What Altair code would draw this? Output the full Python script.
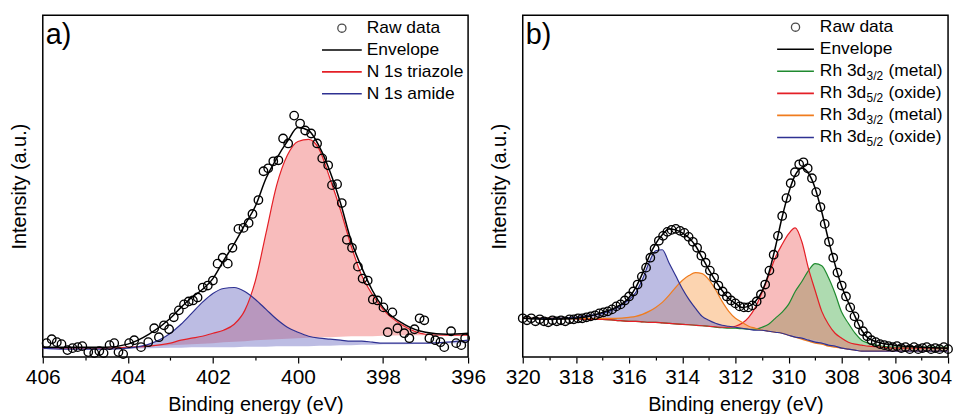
import altair as alt
import pandas as pd

FONT = "Liberation Sans"

# ---------------- Panel a: N 1s ----------------
a_raw_E = [405.91, 405.79, 405.67, 405.56, 405.42, 405.30, 405.18, 405.07, 404.93, 404.79,
           404.67, 404.57, 404.43, 404.32, 404.22, 404.11, 403.97, 403.85, 403.69, 403.52,
           403.38, 403.27, 403.15, 403.03, 402.92, 402.80, 402.68, 402.57, 402.47, 402.36,
           402.24, 402.12, 402.00, 401.89, 401.77, 401.65, 401.54, 401.40, 401.28, 401.16,
           401.07, 400.93, 400.81, 400.70, 400.58, 400.46, 400.35, 400.23, 400.09, 399.95,
           399.83, 399.69, 399.55, 399.43, 399.29, 399.20, 399.08, 398.97, 398.85, 398.73,
           398.59, 398.48, 398.36, 398.24, 398.13, 397.99, 397.89, 397.78, 397.66, 397.50,
           397.38, 397.26, 397.14, 397.03, 396.91, 396.77, 396.65, 396.56, 396.40, 396.28,
           396.16, 396.07]
a_raw_I = [14, 18, 15, 13, 7, 9, 10, 11, 5, 4,
           6, 4, 12, 14, 5, 3, 14, 17, 10, 15,
           29, 20, 32, 28, 40, 47, 53, 56, 57, 60,
           70, 72, 77, 94, 100, 94, 110, 129, 130, 135,
           144, 158, 187, 190, 197, 198, 220, 215, 243, 235,
           228, 225, 215, 200, 193, 173, 174, 155, 118, 110,
           91, 79, 77, 58, 57, 50, 25, 45, 29, 24,
           19, 28, 39, 37, 19, 17, 15, 10, 26, 14,
           12, 19]

a_fit_E = [406, 405.5, 405, 404.5, 404, 403.5, 403, 402.75, 402.5, 402.25, 402, 401.75,
           401.5, 401.25, 401, 400.75, 400.5, 400.25, 400, 399.75, 399.5, 399.25, 399,
           398.75, 398.5, 398.25, 398, 397.5, 397, 396.5, 396]
a_envelope = [10, 10, 10, 10, 13, 23, 39, 50, 60, 68, 79, 97, 114, 133, 152, 180, 200, 217,
              231, 228, 212, 187, 155, 117, 90, 67, 50, 33, 25, 23, 24]
a_triazole = [9, 9, 9, 9, 10, 11, 14, 17, 19, 21, 24, 27, 33, 47, 77, 125, 173, 203, 217,
              219, 209, 180, 148, 112, 82, 63, 48, 31, 23, 22, 22]
a_triazole_bg = [9, 9, 9, 9.5, 10, 11, 12, 12.5, 13, 13.5, 14, 15, 15.5, 16, 17, 17.5, 18,
                 18.5, 19, 19.5, 20, 20, 20.5, 21, 21, 21, 21.5, 22, 22, 22, 22]
a_amide = [9, 8, 8, 8, 9, 13, 24, 33, 44, 55, 64, 69, 70, 66, 58, 48, 38, 30, 25, 21, 19,
           18, 17, 16, 16, 15, 14, 14, 14, 15, 17]
a_amide_bg = [8, 8, 8, 8, 8.5, 9, 9.5, 9.5, 10, 10, 10, 10, 10, 10.5, 10.5, 10.5, 11, 11,
              11, 11, 11.5, 11.5, 12, 12, 12.5, 12.5, 13, 13, 13.5, 14, 14]

# ---------------- Panel b: Rh 3d ----------------
b_raw_E = [320.00, 319.84, 319.68, 319.52, 319.36, 319.20, 319.04, 318.88, 318.72, 318.56,
           318.40, 318.24, 318.08, 317.92, 317.76, 317.60, 317.44, 317.28, 317.12, 316.96,
           316.80, 316.64, 316.48, 316.32, 316.16, 316.00, 315.84, 315.68, 315.52, 315.36,
           315.20, 315.04, 314.88, 314.72, 314.56, 314.40, 314.24, 314.08, 313.92, 313.76,
           313.60, 313.44, 313.28, 313.12, 312.96, 312.80, 312.64, 312.48, 312.32, 312.16,
           312.00, 311.84, 311.68, 311.52, 311.36, 311.20, 311.04, 310.88, 310.72, 310.56,
           310.40, 310.24, 310.08, 309.92, 309.76, 309.60, 309.44, 309.28, 309.12, 308.96,
           308.80, 308.64, 308.48, 308.32, 308.16, 308.00, 307.84, 307.68, 307.52, 307.36,
           307.20, 307.04, 306.88, 306.72, 306.56, 306.40, 306.24, 306.08, 305.92, 305.76,
           305.60, 305.44, 305.28, 305.12, 304.96, 304.80, 304.64, 304.48, 304.32, 304.16,
           304.00]
b_raw_I = [39, 37, 39, 36, 38, 36, 35, 37, 36, 37,
           36, 38, 38, 39, 39, 40, 41, 42, 44, 45,
           46, 48, 51, 53, 57, 61, 66, 73, 81, 90,
           100, 109, 117, 122, 126, 128, 129, 127, 125, 121,
           116, 110, 102, 95, 87, 80, 72, 66, 61, 57,
           54, 51, 50, 50, 52, 56, 63, 73, 87, 103,
           122, 142, 160, 175, 186, 194, 196, 190, 180, 166,
           151, 134, 116, 100, 85, 72, 61, 50, 41, 33,
           26, 21, 17, 15, 13, 12, 11, 10, 11, 9,
           10, 8, 10, 8, 9, 10, 8, 9, 8, 10,
           8]

b_fit_E = [320, 319, 318, 317.5, 317, 316.5, 316, 315.75, 315.5, 315.25, 315, 314.75, 314.5,
           314.25, 314, 313.75, 313.5, 313.25, 313, 312.75, 312.5, 312.25, 312, 311.75, 311.5,
           311.25, 311, 310.75, 310.5, 310.25, 310, 309.75, 309.5, 309.25, 309, 308.75, 308.5,
           308.25, 308, 307.75, 307.5, 307.25, 307, 306.5, 306, 305, 304]
b_background = [39, 39, 38.5, 38, 38, 37, 36, 36, 35.5, 35, 35, 34.5, 34, 33.5, 33, 32.5, 32,
                31.5, 31, 30, 29.5, 29, 29, 28.5, 28, 27, 27, 26, 25, 24, 23, 21, 20, 18, 17,
                15, 13, 12, 10, 9, 8, 7, 6, 6, 6, 6, 6]
b_envelope = [39, 38, 39, 41, 45, 50, 60, 70, 84, 101, 114, 123, 129, 128, 125, 120, 112, 100,
              88, 77, 67, 59, 54, 50, 51, 56, 66, 84, 110, 140, 165, 183, 190, 185, 170, 146,
              118, 93, 71, 55, 41, 27, 19, 14, 12, 10, 9]
b_metal_32 = [39, 39, 38.5, 38, 38, 37, 36, 36, 35.5, 35, 35, 34.5, 34, 33.5, 33, 32.5, 32,
              31.5, 31, 30, 29.5, 29, 29, 28.5, 28, 28, 30, 33, 39, 45, 53, 66, 76, 87, 94,
              92, 80, 64, 45, 34, 24, 17, 14, 11, 10, 10, 10]
b_oxide_52 = [39, 39, 38.5, 38, 38, 37, 36, 36, 35.5, 35, 35, 34.5, 34, 33.5, 33, 32.5, 32,
              31.5, 31, 30.5, 30, 30, 31, 34, 40, 50, 65, 82, 100, 113, 124, 130, 116, 89, 67,
              46, 33, 24, 19, 15, 13, 12, 11, 10, 9, 9, 9]
b_metal_32b = [39, 39, 39, 39, 39, 39, 40, 41, 43, 46, 50, 55, 62, 70, 77, 82, 85, 84, 78, 68,
               56, 46, 39, 35, 31, 29, 27, 26, 25, 24, 22, 20, 18, 16, 14, 13, 11, 10, 9, 8, 7,
               6, 6, 6, 6, 6, 6]
b_oxide_52b = [39, 39, 40, 42, 44, 49, 58, 65, 78, 95, 107, 108, 95, 82, 69, 58, 49, 41, 37,
               34, 32, 31, 30, 29, 28, 27, 27, 26, 25, 24, 22, 20, 19, 17, 15, 14, 12, 11, 9, 8,
               7, 6, 6, 6, 6, 6, 6]

RED, BLUE, GREEN, ORANGE = "#e41f26", "#2e3192", "#1f8a2f", "#f07c1e"

raw_a = pd.DataFrame({"E": a_raw_E, "I": a_raw_I})
fit_a = pd.DataFrame({"E": a_fit_E, "env": a_envelope, "tri": a_triazole, "tri_bg": a_triazole_bg,
                      "ami": a_amide, "ami_bg": a_amide_bg})
raw_b = pd.DataFrame({"E": b_raw_E, "I": b_raw_I})
fit_b = pd.DataFrame({"E": b_fit_E, "env": b_envelope, "bg": b_background, "m1": b_metal_32,
                      "o1": b_oxide_52, "m2": b_metal_32b, "o2": b_oxide_52b})
one = pd.DataFrame({"k": [0]})

YSC = alt.Scale(domain=[0, 344], nice=False, zero=False)
YAX = alt.Axis(labels=False, ticks=False, domain=False, grid=False, titlePadding=13)
YT = "Intensity (a.u.)"
W, H = 428, 344


def x_axis(lo, hi, edge_label):
    show = "datum.value % 2 === 0"
    if edge_label:
        show += f" && datum.value !== {lo}"
    return alt.Axis(values=list(range(lo, hi + 1)), grid=False, domain=False,
                    labelExpr=f"{show} ? datum.label : ''",
                    tickSize={"condition": {"test": "datum.value % 2 === 0", "value": 6}, "value": 3},
                    labelOverlap=False, labelFlush=False, labelPadding=4, titlePadding=7)


def panel(raw, fit, dom, lo, hi, comps, letter, legend, rows_y0, rows_dy, edge_label):
    X = alt.X("E:Q", scale=alt.Scale(domain=dom, nice=False, zero=False),
              axis=x_axis(lo, hi, edge_label), title="Binding energy (eV)")
    layers = []
    for field, base, color, fill in comps:
        layers.append(alt.Chart(fit).mark_area(interpolate="monotone", color=fill, opacity=0.45).encode(
            x=X, y=alt.Y(f"{field}:Q", scale=YSC, axis=YAX, title=YT), y2=alt.Y2(f"{base}:Q")))
    for field, base, color, fill in comps:
        layers.append(alt.Chart(fit).mark_line(interpolate="monotone", color=color, strokeWidth=1.2).encode(
            x=X, y=alt.Y(f"{field}:Q", scale=YSC, axis=YAX, title=YT)))
    layers.append(alt.Chart(fit).mark_line(interpolate="monotone", color="black", strokeWidth=1.5).encode(
        x=X, y=alt.Y("env:Q", scale=YSC, axis=YAX, title=YT)))
    layers.append(alt.Chart(raw).mark_point(shape="circle", filled=False, color="black", size=72,
                                            strokeWidth=1.35, opacity=1).encode(
        x=X, y=alt.Y("I:Q", scale=YSC, axis=YAX, title=YT)))
    # panel letter
    layers.append(alt.Chart(one).mark_text(text=letter, font=FONT, fontSize=29, align="left",
                                           baseline="middle", color="black").encode(
        x=alt.value(3), y=alt.value(20)))
    # last tick label at the page edge (kept inside the page)
    if edge_label:
        layers.append(alt.Chart(one).mark_text(text=str(lo), font=FONT, fontSize=21, align="right",
                                               baseline="top", color="black").encode(
            x=alt.value(W + 4), y=alt.value(H + 10)))
    # legend
    lx0, lx1, tx, rows = legend
    for i, (kind, color, parts) in enumerate(rows):
        yy = rows_y0 + i * rows_dy
        cx = (lx0 + lx1) / 2
        if kind == "circle":
            layers.append(alt.Chart(one).mark_point(shape="circle", filled=False, color="black", size=68,
                                                    strokeWidth=1.3).encode(x=alt.value(cx), y=alt.value(yy)))
        else:
            layers.append(alt.Chart(one).mark_rule(color=color, strokeWidth=1.6).encode(
                x=alt.value(lx0), x2=alt.value(lx1), y=alt.value(yy)))
        xx = tx
        for txt, sub, w in parts:
            layers.append(alt.Chart(one).mark_text(text=txt, font=FONT, fontSize=12 if sub else 17.5,
                                                   align="left", baseline="middle", color="black").encode(
                x=alt.value(xx), y=alt.value(yy + (5 if sub else 0))))
            xx += w
    return alt.layer(*layers).properties(width=W, height=H)


legend_a = (281, 321, 326, [
    ("circle", "black", [("Raw data", False, 0)]),
    ("line", "black", [("Envelope", False, 0)]),
    ("line", RED, [("N 1s triazole", False, 0)]),
    ("line", BLUE, [("N 1s amide", False, 0)]),
])
comps_a = [("tri", "tri_bg", RED, "#f06a6a"), ("ami", "ami_bg", BLUE, "#6a6ac0")]
pa = panel(raw_a, fit_a, [406, 396], 396, 406, comps_a, "a)", legend_a, 13, 22, False)

legend_b = (256, 293, 299, [
    ("circle", "black", [("Raw data", False, 0)]),
    ("line", "black", [("Envelope", False, 0)]),
    ("line", GREEN, [("Rh 3d", False, 47), ("3/2", True, 22), ("(metal)", False, 0)]),
    ("line", RED, [("Rh 3d", False, 47), ("5/2", True, 22), ("(oxide)", False, 0)]),
    ("line", ORANGE, [("Rh 3d", False, 47), ("3/2", True, 22), ("(metal)", False, 0)]),
    ("line", BLUE, [("Rh 3d", False, 47), ("5/2", True, 22), ("(oxide)", False, 0)]),
])
comps_b = [("m1", "bg", GREEN, "#4caf50"), ("o1", "bg", RED, "#f06a6a"),
           ("m2", "bg", ORANGE, "#f8a050"), ("o2", "bg", BLUE, "#6a6ac0")]
pb = panel(raw_b, fit_b, [320, 304], 304, 320, comps_b, "b)", legend_b, 12, 22.2, True)

chart = alt.hconcat(pa, pb, spacing=2).properties(
    padding={"left": 1, "top": 5, "right": 0, "bottom": -3}
).configure_view(stroke="black", strokeWidth=1.5).configure_axis(
    labelFont=FONT, titleFont=FONT, labelFontSize=21, titleFontSize=20, titleFontWeight="normal",
    labelColor="black", titleColor="black", tickColor="black", tickWidth=1.2
)

chart.save("out.html", embed_options={"renderer": "svg", "actions": False})
